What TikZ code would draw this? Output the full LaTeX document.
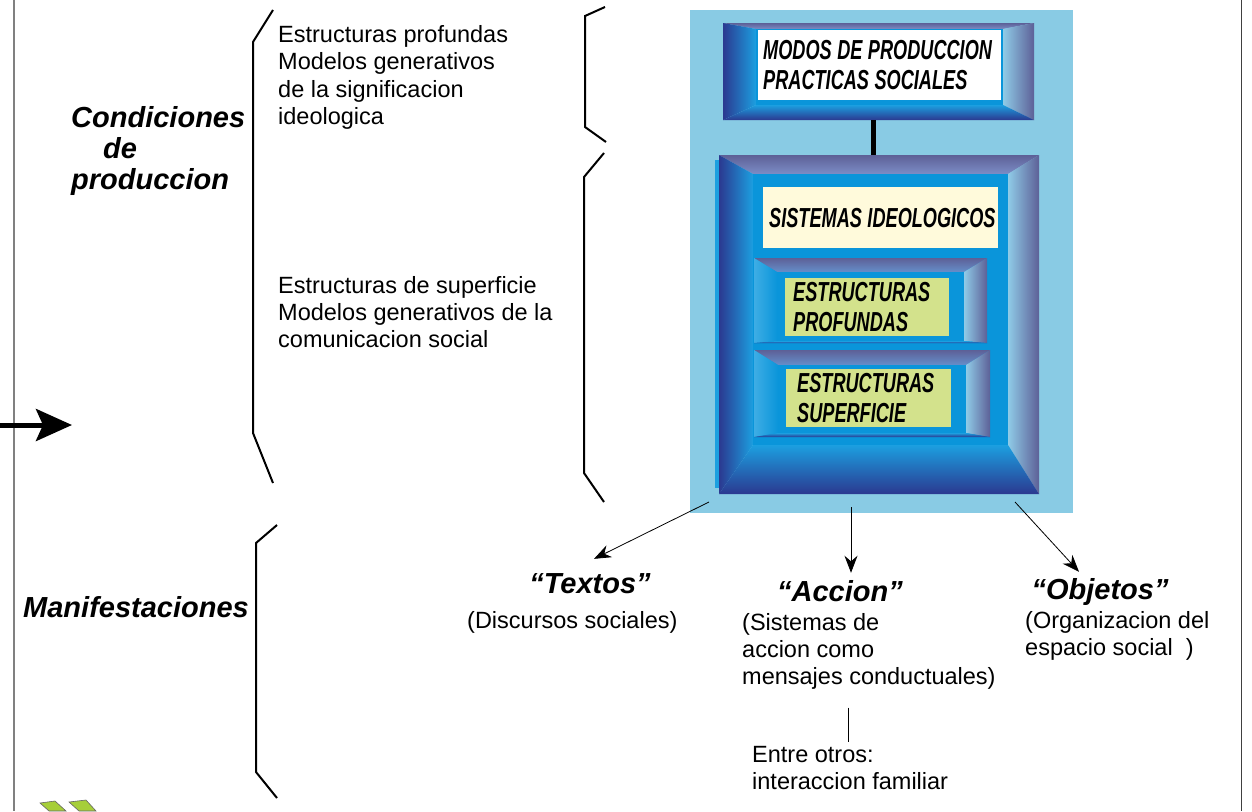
\documentclass[tikz,border=0pt]{standalone}
\usepackage{fontspec}
\setmainfont{Liberation Sans}
\newfontfamily\condfont[FakeStretch=0.66]{Liberation Sans}
\usetikzlibrary{arrows.meta}
\definecolor{bgblue}{HTML}{89CBE4}
\definecolor{face}{HTML}{0A95DA}
\definecolor{navy}{HTML}{2B3990}
\definecolor{sky}{HTML}{1C9FE0}
\definecolor{purp}{HTML}{5D6097}
\definecolor{purplight}{HTML}{7C8DC6}
\definecolor{lightsky}{HTML}{8FCBE7}
\definecolor{cream}{HTML}{FFFADB}
\definecolor{boxgreen}{HTML}{D3E28C}
\definecolor{chev}{HTML}{A6CE39}
\colorlet{topA}{purp}\colorlet{topB}{purplight}
\colorlet{leftA}{navy}\colorlet{leftB}{sky}
\colorlet{rightA}{lightsky}\colorlet{rightB}{purp}
\colorlet{botA}{sky}\colorlet{botB}{navy}
\newcommand\boxsp{\hspace{5.5pt}}
% outer x1 y1 x2 y2, inner a1 b1 a2 b2
\newcommand\bevelframe[8]{%
 \shade[top color=topA,bottom color=topB] (#1,#2)--(#3,#2)--(#7,#6)--(#5,#6)--cycle;
 \shade[left color=leftA,right color=leftB] (#1,#2)--(#5,#6)--(#5,#8)--(#1,#4)--cycle;
 \shade[left color=rightA,right color=rightB] (#3,#2)--(#7,#6)--(#7,#8)--(#3,#4)--cycle;
 \shade[top color=botA,bottom color=botB] (#5,#8)--(#7,#8)--(#3,#4)--(#1,#4)--cycle;
 \fill[face] (#5,#6) rectangle (#7,#8);
}
\tikzset{
 brace/.style={line width=2pt, line join=miter},
 regtext/.style={font=\fontsize{23.5}{27.2}\selectfont, inner sep=0pt, align=left, anchor=north west},
 titletext/.style={font=\fontsize{29}{31}\selectfont\bfseries\itshape, inner sep=0pt},
 boxtext/.style={font=\condfont\fontsize{27.5}{29.5}\selectfont\bfseries\itshape, align=left, anchor=north west, inner ysep=0pt},
 frame/.style={draw=none, inner sep=0pt, anchor=north west},
 conn/.style={line width=0.8pt, -{Stealth[length=17pt,width=13pt]}},
}
\begin{document}
\begin{tikzpicture}[x=1pt,y=-1pt]
\useasboundingbox (0,0) rectangle (1252,811);
% page side lines
\draw[gray, line width=1.5pt] (14,0) -- (14,811);
\draw[black!75, line width=1pt] (1241,0) -- (1241,811);
% left arrow
\coordinate (la) at (0,425);
\coordinate (lb) at (72,425);
\draw[line width=5pt, -{Stealth[length=36pt,width=32pt,inset=7pt]}] (la) -- (lb);
% brackets
\draw[brace] (273,10) -- (253,42) -- (253,433) -- (273,483);
\draw[brace] (277,525) -- (256,543) -- (256,772) -- (277,798);
\draw[brace] (605,7) -- (585,16) -- (585,127) -- (606,142);
\draw[brace] (604,153) -- (584,177) -- (584,473) -- (604,502);
% left labels
\node[titletext, align=left, anchor=north west] (cond) at (71,106) {Condiciones\\\hspace*{32pt}de\\produccion};
\node[titletext, anchor=base west] (manif) at (23,617) {Manifestaciones};
% bracket annotations
\node[regtext] (prof) at (278,25.5) {Estructuras profundas\\Modelos generativos\\de la significacion\\ideologica};
\node[regtext] (sup) at (278,276) {Estructuras de superficie\\Modelos generativos de la\\comunicacion social};
% background
\node[frame, fill=bgblue, minimum width=383pt, minimum height=503pt] (bg) at (690,10) {};
% MODOS frame
\node[frame, minimum width=311pt, minimum height=97pt] (modosframe) at (723,23) {};
\bevelframe{723}{23}{1034}{120}{756}{29}{1003}{105}
\node[boxtext, fill=white, minimum width=243pt, minimum height=70pt, text width=233pt, inner xsep=5pt] (modos) at (758,30) {\mbox{MODOS\boxsp DE\boxsp PRODUCCION}\\\mbox{PRACTICAS\boxsp SOCIALES}};
% big frame
\fill[sky] (715,160) rectangle (720,488);
\node[frame, minimum width=320pt, minimum height=339pt] (bigframe) at (719,155) {};
\bevelframe{719}{155}{1039}{494}{753}{174}{1008}{445}
\draw[line width=5pt] (modosframe.south -| 873,0) -- (bigframe.north -| 873,0);
\node[boxtext, fill=cream, minimum width=235pt, minimum height=61pt, text width=223pt, inner xsep=6pt] (sist) at (763,187) {\mbox{SISTEMAS\boxsp IDEOLOGICOS}};
% estructuras profundas
\colorlet{leftA}{sky!85!white}\colorlet{leftB}{face}
\colorlet{topA}{purp}\colorlet{topB}{purplight!80!face}
\bevelframe{754}{258}{987}{343}{777}{272}{964}{341}
\node[boxtext, fill=boxgreen, minimum width=164pt, minimum height=58pt, text width=148pt, inner xsep=8pt] (eprof) at (785,278) {\mbox{ESTRUCTURAS}\\\mbox{PROFUNDAS}};
% estructuras superficie
\bevelframe{754}{350}{990}{437}{778}{365}{966}{433}
\node[boxtext, fill=boxgreen, minimum width=165pt, minimum height=58pt, text width=143pt, inner xsep=11pt] (esup) at (786,369) {\mbox{ESTRUCTURAS}\\\mbox{SUPERFICIE}};
% manifestations
\node[titletext, anchor=base] (textos) at (590,593) {“Textos”};
\node[titletext, anchor=base] (accion) at (840,601) {“Accion”};
\node[titletext, anchor=base] (objetos) at (1100,599) {“Objetos”};
\node[regtext] (textosd) at (467,611) {(Discursos sociales)};
\node[regtext] (acciond) at (742,613) {(Sistemas de\\accion como\\mensajes conductuales)};
\node[regtext] (objetosd) at (1025,611) {(Organizacion del\\espacio social~~)};
\node[regtext] (entre) at (752,746) {Entre otros:\\interaccion familiar};
% connectors
\coordinate (c1) at (709,502);
\coordinate (c2) at (851,507);
\coordinate (c3) at (1015,502);
\draw[conn] (c1) -- ([xshift=4pt,yshift=14pt]textos.north);
\draw[conn] (c2) -- ([xshift=11pt,yshift=7pt]accion.north);
\draw[conn] (c3) -- ([xshift=-21pt,yshift=6pt]objetos.north);
\draw[line width=0.8pt] (acciond.south -| 848,0) ++(0,18) -- ([yshift=4pt]entre.north -| 848,0);
% green chevrons
\filldraw[fill=chev, draw=black!60, line width=0.6pt] (40,803) -- (55,801) -- (66,811) -- (49,811) -- cycle;
\filldraw[fill=chev, draw=black!60, line width=0.6pt] (69,802) -- (86,800) -- (96,811) -- (79,811) -- cycle;
\end{tikzpicture}
\end{document}
